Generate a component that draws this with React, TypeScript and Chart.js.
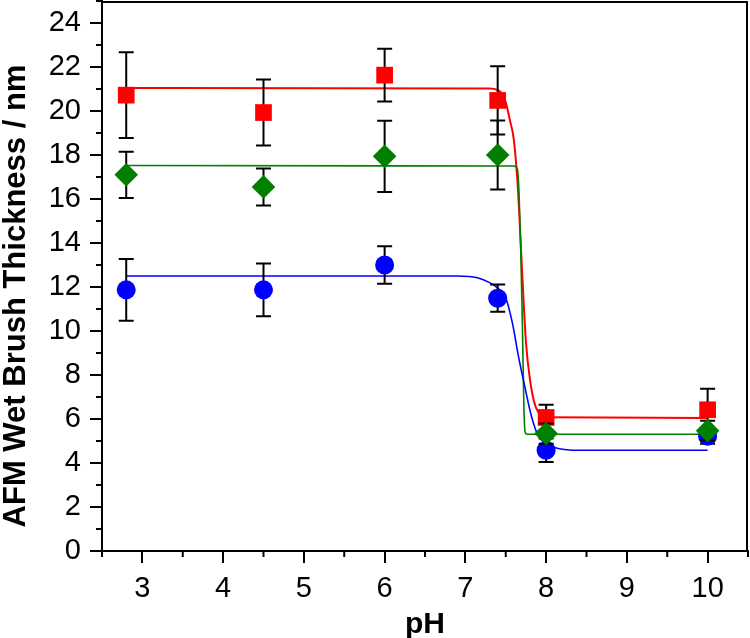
import React, { useEffect, useRef } from "react";
import { Chart, registerables } from "chart.js";

Chart.register(...registerables);

// Measured points (pH, thickness in nm, error bar half-width)
const phValues = [2.8, 4.5, 6.0, 7.4, 8.0, 10.0];
const redThickness = [20.72, 19.93, 21.63, 20.48, 6.07, 6.42];
const redError = [1.95, 1.5, 1.2, 1.55, 0.58, 0.95];
const greenThickness = [17.1, 16.55, 17.94, 18.0, 5.34, 5.47];
const greenError = [1.05, 0.84, 1.62, 1.57, 0.46, 0.45];
const blueThickness = [11.87, 11.87, 13.0, 11.49, 4.58, 5.22];
const blueError = [1.4, 1.2, 0.85, 0.62, 0.53, 0.35];

// Fitted curves
const redFitPH = [2.8, 7.3, 7.4, 7.45, 7.5, 7.55, 7.6, 7.65, 7.7, 7.75, 7.8, 7.85, 7.9, 8.0, 10.0];
const redFitThickness = [21.05, 21.02, 20.95, 20.8, 20.4, 19.6, 18.7, 16.5, 12.9, 9.5, 7.8, 6.8, 6.33, 6.08, 6.05];
const greenFitPH = [2.8, 7.6, 7.645, 7.665, 7.685, 7.705, 7.725, 7.74, 7.76, 10.0];
const greenFitThickness = [17.52, 17.5, 17.35, 16.2, 13.8, 10.5, 6.5, 5.4, 5.31, 5.31];
const blueFitPH = [2.8, 6.9, 7.15, 7.3, 7.4, 7.5, 7.58, 7.66, 7.74, 7.82, 7.9, 8.0, 8.15, 8.4, 10.0];
const blueFitThickness = [12.5, 12.5, 12.42, 12.2, 11.95, 11.5, 10.4, 8.8, 7.4, 6.1, 5.25, 4.88, 4.66, 4.58, 4.58];

// Axis ticks
const xMajorTicks = [3, 4, 5, 6, 7, 8, 9, 10];
const xMinorTicks = [2.5, 3.5, 4.5, 5.5, 6.5, 7.5, 8.5, 9.5, 10.5];
const yMajorTicks = [0, 2, 4, 6, 8, 10, 12, 14, 16, 18, 20, 22, 24];
const yMinorTicks = [1, 3, 5, 7, 9, 11, 13, 15, 17, 19, 21, 23, 25];

const xTitle = "pH";
const yTitle = "AFM Wet Brush Thickness / nm";

const FONT = "'Liberation Sans', Arial, Helvetica, sans-serif";

const toPoints = (xs: number[], ys: number[]) => xs.map((x, i) => ({ x, y: ys[i] }));

const decorPlugin = {
  id: "decor",
  beforeDatasetDraw(chart: any, args: any) {
    const ds: any = chart.data.datasets[args.index];
    if (!ds.errors) return;
    const ctx = chart.ctx;
    const xs = chart.scales.x;
    const ys = chart.scales.y;
    ctx.save();
    ctx.strokeStyle = "#000";
    ctx.lineWidth = 2;
    ds.data.forEach((p: any, i: number) => {
      const e = ds.errors[i];
      const px = xs.getPixelForValue(p.x);
      const top = ys.getPixelForValue(p.y + e);
      const bot = ys.getPixelForValue(p.y - e);
      ctx.beginPath();
      ctx.moveTo(px, top);
      ctx.lineTo(px, bot);
      ctx.moveTo(px - 7.5, top);
      ctx.lineTo(px + 7.5, top);
      ctx.moveTo(px - 7.5, bot);
      ctx.lineTo(px + 7.5, bot);
      ctx.stroke();
    });
    ctx.restore();
  },
  afterDraw(chart: any) {
    const ctx = chart.ctx;
    const xs = chart.scales.x;
    const ys = chart.scales.y;
    const left = xs.left;
    const right = xs.right;
    const top = ys.top;
    const bottom = ys.bottom;
    ctx.save();
    ctx.strokeStyle = "#000";
    ctx.lineWidth = 2;
    // frame top and right
    ctx.beginPath();
    ctx.moveTo(left, top + 1);
    ctx.lineTo(right - 1, top + 1);
    ctx.lineTo(right - 1, bottom);
    ctx.stroke();
    // minor ticks
    ctx.beginPath();
    xMinorTicks.forEach((v) => {
      const px = xs.getPixelForValue(v);
      ctx.moveTo(px, bottom);
      ctx.lineTo(px, bottom + 6);
    });
    yMinorTicks.forEach((v) => {
      const py = ys.getPixelForValue(v);
      ctx.moveTo(left, py);
      ctx.lineTo(left - 6, py);
    });
    ctx.stroke();
    // titles
    ctx.fillStyle = "#000";
    ctx.font = `bold 30px ${FONT}`;
    ctx.textAlign = "center";
    ctx.textBaseline = "alphabetic";
    ctx.fillText(xTitle, (left + right) / 2, 633);
    ctx.save();
    ctx.translate(25, 296);
    ctx.rotate(-Math.PI / 2);
    ctx.font = `bold 31px ${FONT}`;
    ctx.fillText(yTitle, 0, 0);
    ctx.restore();
    ctx.restore();
  },
};

export default function App() {
  const canvasRef = useRef<HTMLCanvasElement | null>(null);

  useEffect(() => {
    if (!canvasRef.current) return;
    const fitLine = (xs: number[], ys: number[], color: string, width: number, order: number) => ({
      type: "line" as const,
      data: toPoints(xs, ys),
      borderColor: color,
      backgroundColor: color,
      borderWidth: width,
      pointRadius: 0,
      fill: false,
      cubicInterpolationMode: "monotone" as const,
      order,
    });
    const marks = (ys: number[], errs: number[], color: string, style: string, radius: number, order: number) => ({
      type: "scatter" as const,
      data: toPoints(phValues, ys),
      errors: errs,
      backgroundColor: color,
      borderColor: color,
      borderWidth: 0,
      pointStyle: style,
      pointRadius: radius,
      showLine: false,
      order,
    });
    const zeroPad = (s: any) => {
      s.paddingTop = 0;
      s.paddingBottom = 0;
      s.paddingLeft = 0;
      s.paddingRight = 0;
    };

    const chart = new Chart(canvasRef.current, {
      type: "scatter",
      data: {
        datasets: [
          fitLine(redFitPH, redFitThickness, "#ff0000", 2, 12),
          fitLine(greenFitPH, greenFitThickness, "#008000", 1.6, 11),
          fitLine(blueFitPH, blueFitThickness, "#0000ff", 1.6, 10),
          marks(blueThickness, blueError, "#0000ff", "circle", 9.5, 3) as any,
          marks(redThickness, redError, "#ff0000", "rect", 11.8, 2) as any,
          marks(greenThickness, greenError, "#007f00", "rectRot", 11.8, 1) as any,
        ],
      },
      options: {
        animation: false,
        responsive: true,
        maintainAspectRatio: false,
        layout: { padding: { top: 1, right: 2, left: 0, bottom: 0 }, autoPadding: false } as any,
        plugins: {
          legend: { display: false },
          tooltip: { enabled: false },
        },
        scales: {
          x: {
            type: "linear",
            min: 2.5,
            max: 10.5,
            afterBuildTicks: (s: any) => {
              s.ticks = xMajorTicks.map((v) => ({ value: v }));
            },
            afterFit: (s: any) => {
              s.height = 87;
              zeroPad(s);
            },
            ticks: {
              color: "#000",
              font: { family: FONT, size: 29 },
              padding: 9,
              maxRotation: 0,
              autoSkip: false,
              callback: (v: any) => String(v),
            },
            grid: {
              drawOnChartArea: false,
              drawTicks: true,
              tickLength: 12,
              color: "#000",
              lineWidth: 2,
            },
            border: { display: true, color: "#000", width: 2 },
          },
          y: {
            type: "linear",
            min: 0,
            max: 25,
            afterBuildTicks: (s: any) => {
              s.ticks = yMajorTicks.map((v) => ({ value: v }));
            },
            afterFit: (s: any) => {
              s.width = 102;
              zeroPad(s);
            },
            ticks: {
              color: "#000",
              font: { family: FONT, size: 29 },
              padding: 9,
              autoSkip: false,
              callback: (v: any) => String(v),
            },
            grid: {
              drawOnChartArea: false,
              drawTicks: true,
              tickLength: 12,
              color: "#000",
              lineWidth: 2,
            },
            border: { display: true, color: "#000", width: 2 },
          },
        },
      },
      plugins: [decorPlugin],
    });
    return () => chart.destroy();
  }, []);

  return (
    <div style={{ position: "absolute", left: 0, top: 0, width: 750, height: 638, background: "#fff" }}>
      <canvas ref={canvasRef} />
    </div>
  );
}
